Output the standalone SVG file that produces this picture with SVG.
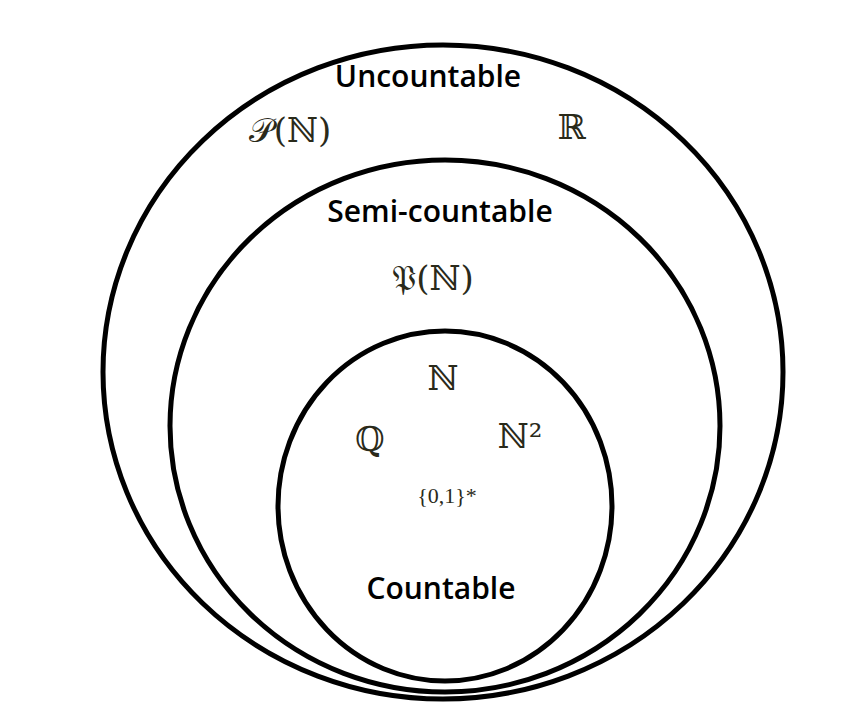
<svg xmlns="http://www.w3.org/2000/svg" width="859" height="706" viewBox="0 0 859 706">
<style>
.c{fill:none;stroke:#000;stroke-width:5}
.l{font-family:"Open Sans","Liberation Sans",sans-serif;font-weight:600;font-size:30px;text-anchor:middle;fill:#000}
.m{font-family:"DejaVu Serif","Liberation Serif",serif;font-size:34px;text-anchor:middle;fill:#2a2a1a}
</style>
<rect width="859" height="706" fill="#fff"/>
<g id="uncountable"><ellipse class="c" cx="443" cy="372" rx="340" ry="327"/><text class="l" x="428" y="87">Uncountable</text>
<text class="m" x="290" y="142">𝒫(ℕ)</text><text class="m" x="572" y="139">ℝ</text></g>
<g id="semicountable"><ellipse class="c" cx="445" cy="426" rx="275" ry="266"/><text class="l" x="440" y="222">Semi-countable</text>
<text class="m" x="433" y="290">𝔓(ℕ)</text></g>
<g id="countable"><ellipse class="c" cx="445" cy="506" rx="167" ry="175"/><text class="l" x="441" y="599">Countable</text>
<text class="m" x="443" y="390">ℕ</text><text class="m" x="370" y="451">ℚ</text><text class="m" x="520" y="448">ℕ²</text>
<text class="m" x="447" y="503" style="font-family:'Liberation Serif',serif;font-size:22px">{0,1}*</text></g>
<g id="connectors"/>
</svg>
